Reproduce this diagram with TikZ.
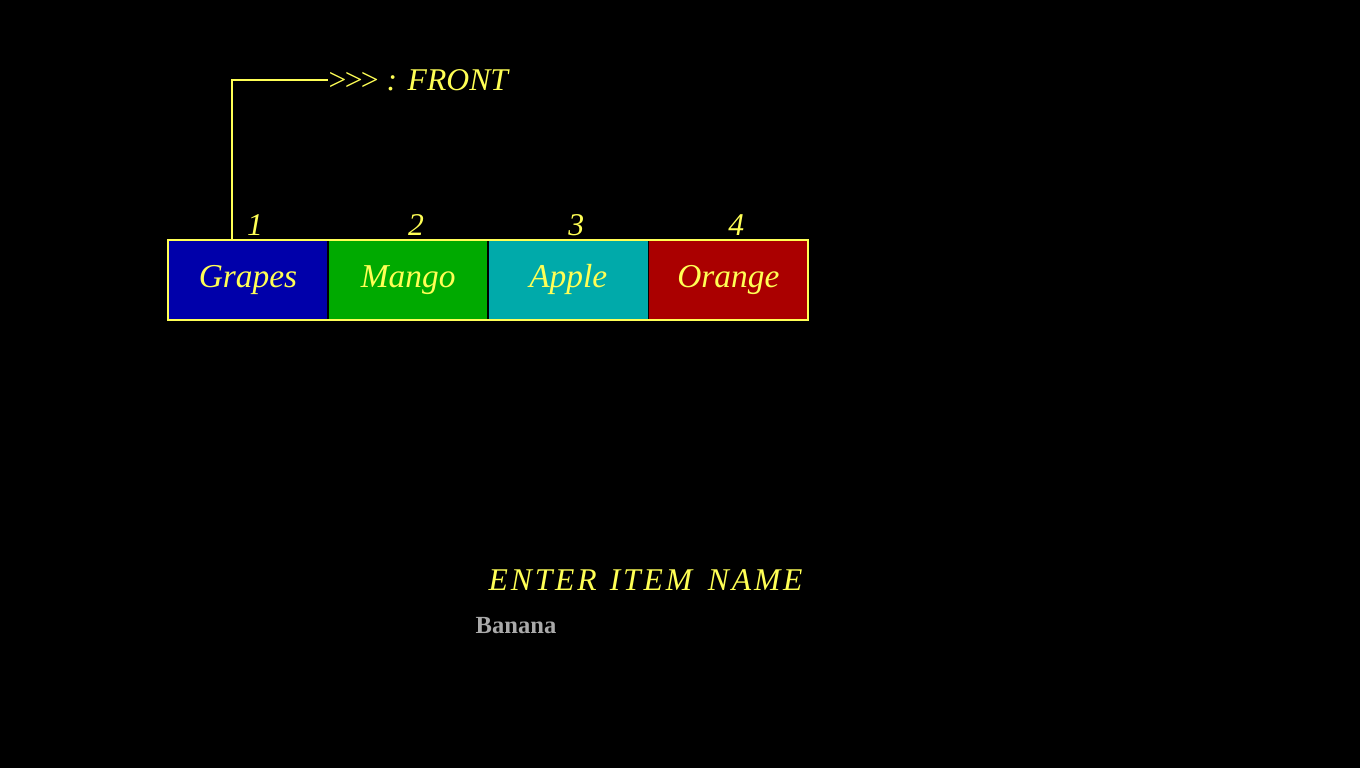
\documentclass[tikz,border=0pt]{standalone}
\usepackage{fontspec}
\setmainfont{Liberation Serif}
\usetikzlibrary{positioning}

\definecolor{egayellow}{HTML}{FFFF55}
\definecolor{egablue}{HTML}{0000AA}
\definecolor{egagreen}{HTML}{00AA00}
\definecolor{egacyan}{HTML}{00AAAA}
\definecolor{egared}{HTML}{AA0000}
\definecolor{egagray}{HTML}{AAAAAA}

\begin{document}
\begin{tikzpicture}[x=0.01cm, y=0.01cm,
    qcell/.style={draw=black, minimum width=1.6cm, minimum height=0.8cm, inner sep=0pt, outer sep=0pt,
      text=egayellow, font=\itshape\fontsize{9.5}{11}\selectfont},
    qnum/.style={text=egayellow, font=\itshape\fontsize{9}{10}\selectfont, inner sep=1pt},
    ptr/.style={draw=egayellow, line width=0.6pt}]
    \fill[black] (0,0) rectangle (1360,768);
    \useasboundingbox (0,0) rectangle (1360,768);

    \node[qcell, fill=egablue, anchor=south west] (q1) at (168,448) {Grapes};
    \node[qcell, fill=egagreen, right=0pt of q1] (q2) {Mango};
    \node[qcell, fill=egacyan, right=0pt of q2] (q3) {Apple};
    \node[qcell, fill=egared, right=0pt of q3] (q4) {Orange};
    \draw[egayellow, line width=0.6pt] (q1.south west) rectangle (q4.north east);

    \node[qnum, above=0pt of q1, xshift=0.07cm] (n1) {1};
    \node[qnum, above=0pt of q2, xshift=0.08cm] (n2) {2};
    \node[qnum, above=0pt of q3, xshift=0.08cm] (n3) {3};
    \node[qnum, above=0pt of q4, xshift=0.08cm] (n4) {4};

    \node[anchor=west, inner sep=0pt, text=egayellow, font=\fontsize{9}{10}\selectfont] (front) at (328,688)
      {>\kern-0.5pt>\kern-0.5pt>\ \textit{: FRONT}};
    \draw[ptr] ([xshift=-0.16cm]q1.north) |- (front.west);

    \node[anchor=west, inner sep=0pt, text=egayellow, font=\itshape\fontsize{9}{10}\selectfont] (prompt) at (488,188)
      {E\kern.8ptN\kern.8ptT\kern.8ptE\kern.8ptR\ \,I\kern.8ptT\kern.8ptE\kern.8ptM\ \ N\kern.8ptA\kern.8ptM\kern.8ptE};
    \node[anchor=west, inner sep=0pt, text=egagray, font=\bfseries\fontsize{7}{8}\selectfont] (item) at (475,142) {Banana};
\end{tikzpicture}
\end{document}
